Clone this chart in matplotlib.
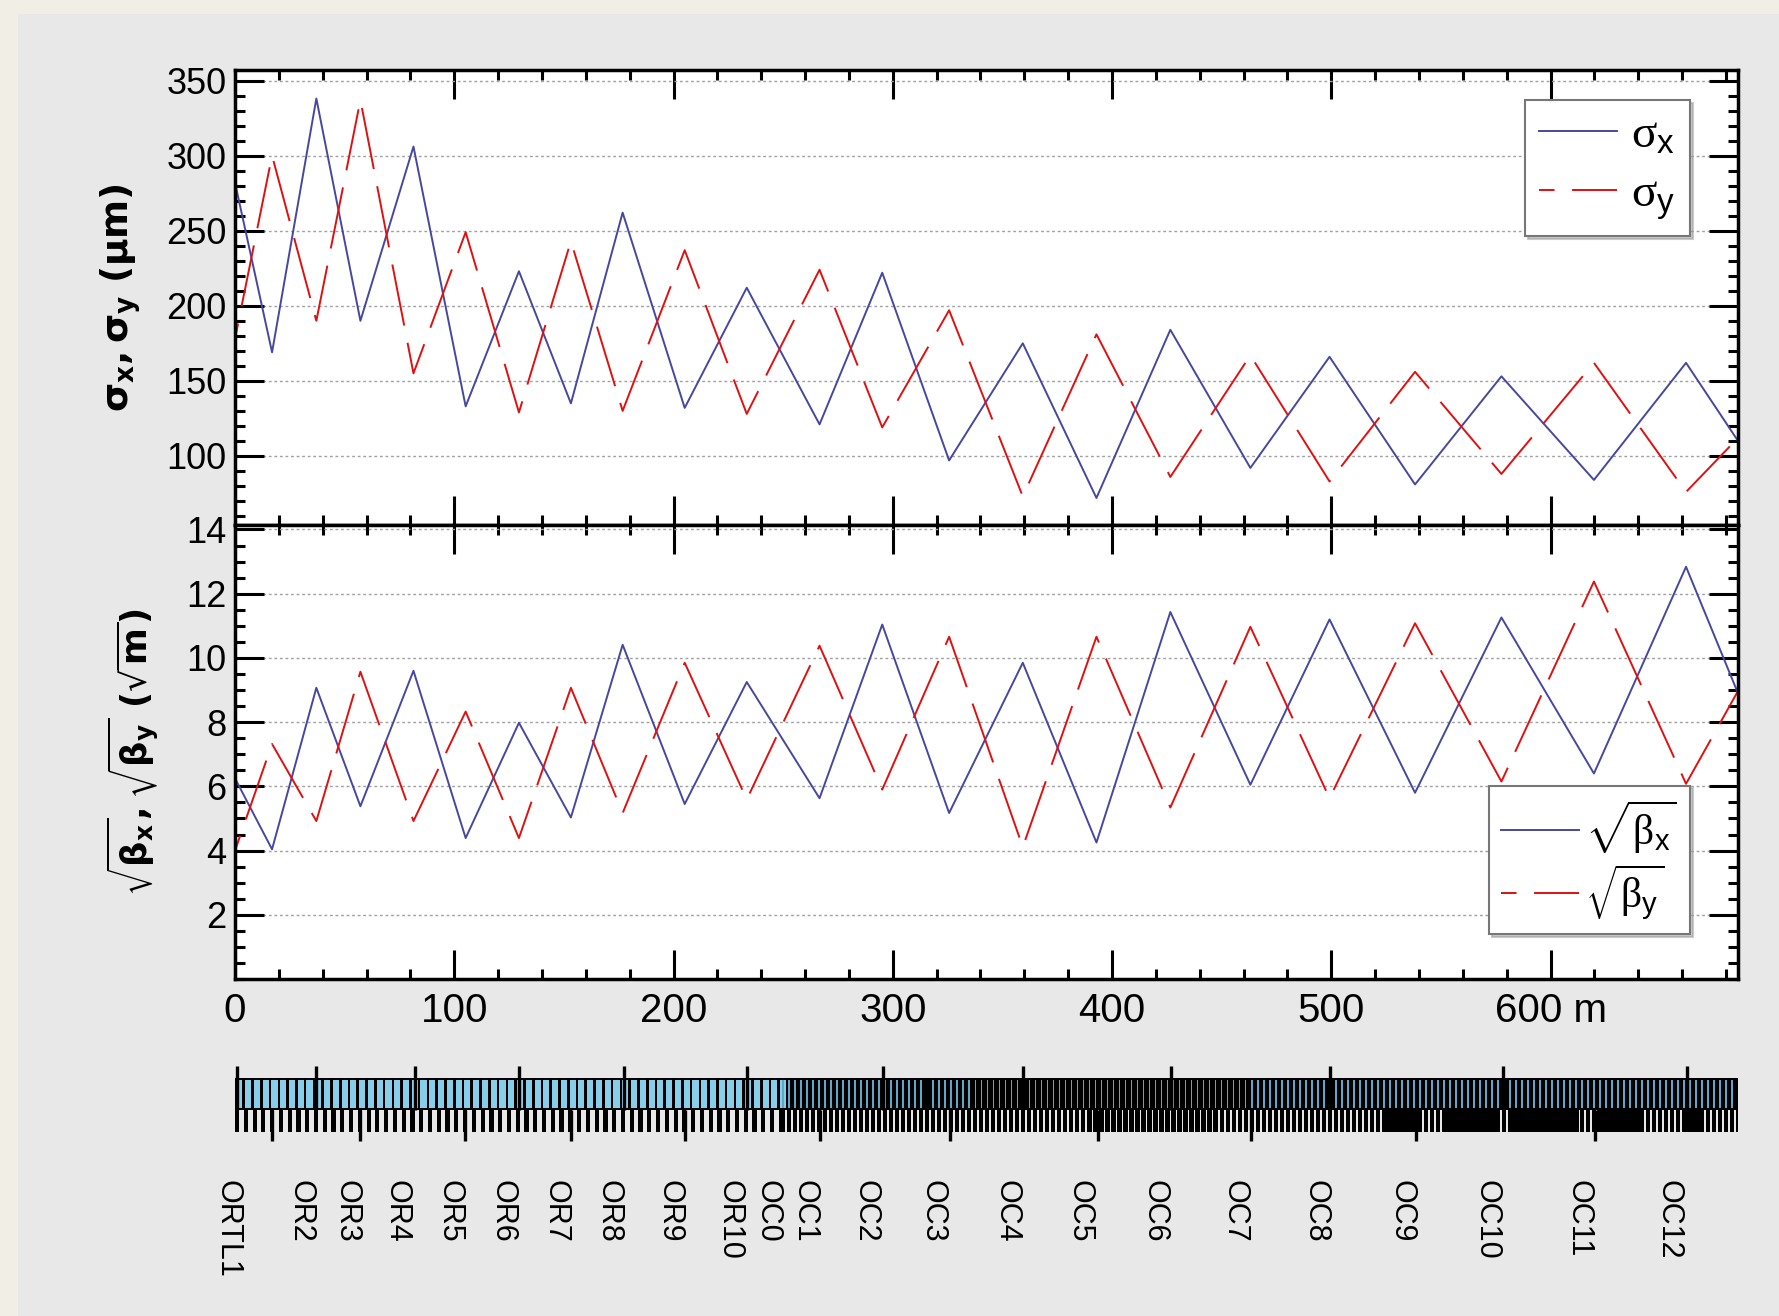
import numpy as np
import matplotlib.pyplot as plt
from matplotlib.ticker import MultipleLocator
from matplotlib.patches import Rectangle

plt.rcParams['font.family'] = ['Liberation Sans', 'DejaVu Sans']
plt.rcParams['mathtext.rm'] = 'Liberation Serif'
plt.rcParams['mathtext.sf'] = 'Liberation Sans'
plt.rcParams['mathtext.it'] = 'Liberation Serif:italic'
plt.rcParams['mathtext.bf'] = 'Liberation Serif:bold'

# beam size and beta function at the quadrupoles (m), last point = end of line
s_quad = [0, 16.9, 37.1, 57.2, 81.4, 105.2, 129.5, 153.2, 176.8, 205.1, 233.4, 266.6,
          295.2, 325.7, 359.3, 392.9, 426.6, 463.1, 499.2, 538.2, 577.6, 619.8, 661.8, 685.5]
sigma_x = [282, 169, 338, 190, 306, 133, 223, 135, 262, 132, 212, 121,
           222, 97, 175, 72, 184, 92, 166, 81, 153, 84, 162, 110]
sigma_y = [178, 300, 190, 337, 155, 249, 129, 243, 130, 237, 128, 224,
           119, 197, 73, 181, 86, 167, 83, 156, 88, 162, 76, 112]
sqrt_beta_x = [6.25, 4.04, 9.07, 5.38, 9.6, 4.39, 7.98, 5.03, 10.41, 5.45, 9.25, 5.63,
               11.04, 5.17, 9.85, 4.25, 11.43, 6.05, 11.2, 5.8, 11.26, 6.4, 12.84, 8.9]
sqrt_beta_y = [4.0, 7.32, 4.92, 9.57, 4.92, 8.33, 4.39, 9.07, 5.17, 9.85, 5.59, 10.38,
               5.9, 10.66, 4.11, 10.66, 5.34, 10.97, 5.63, 11.08, 6.15, 12.38, 6.08, 8.97]

# synoptic: quadrupole markers
quad_f = [0.7, 37.0, 81.9, 129.6, 177.3, 233.6, 295.4, 359.6, 427.0, 499.6, 578.2, 662.2]
quad_d = [16.8, 57.0, 105.1, 153.1, 205.2, 266.9, 325.9, 393.4, 463.2, 538.6, 620.3]

# synoptic: two lattice sections (start, end, pitch, magnet width, bar width, colour)
sec_start = [0.0, 249.0]
sec_end = [249.0, 685.5]
sec_pitch = [4.0, 2.74]
sec_magnet_w = [2.8, 0.75]
sec_bar_w = [1.9, 1.9]
sec_color = ['#87ceeb', '#5ea6ca']
solid_blocks = [(524, 540), (552, 577), (581, 613), (621, 641), (661, 669)]
magnet_gaps = [(313, 318)]

label_names = ['ORTL1', 'OR2', 'OR3', 'OR4', 'OR5', 'OR6', 'OR7', 'OR8', 'OR9', 'OR10',
               'OC0', 'OC1', 'OC2', 'OC3', 'OC4', 'OC5', 'OC6', 'OC7', 'OC8', 'OC9',
               'OC10', 'OC11', 'OC12']
label_s = [-3.5, 30.0, 50.8, 73.8, 97.8, 122.2, 146.1, 170.5, 198.0, 225.4,
           242.8, 259.8, 287.5, 318.2, 352.0, 385.3, 419.2, 455.7, 492.7, 532.2,
           570.9, 612.6, 653.9]

W, H = 1779, 1316
fig = plt.figure(figsize=(W / 100, H / 100), dpi=100, facecolor='#f1eee6')
fig.patches.append(Rectangle((18 / W, 0), 1, 1 - 14 / H, transform=fig.transFigure,
                             facecolor='#e8e8e8', edgecolor='none', zorder=-10))

ax1 = fig.add_axes([235 / W, 1 - 525 / H, 1503 / W, 455 / H])
ax2 = fig.add_axes([235 / W, 1 - 979 / H, 1503 / W, 454 / H])
ax3 = fig.add_axes([235 / W, 1 - 1150 / H, 1503 / W, 100 / H])

blue = '#4747a0'
red = '#e01010'
dash = (24, (32, 9))

ax1.plot(s_quad, sigma_x, color=blue, lw=1.4, label=r'$\mathrm{\sigma}_{\mathsf{x}}$')
ax1.plot(s_quad, sigma_y, color=red, lw=1.4, ls=dash, label=r'$\mathrm{\sigma}_{\mathsf{y}}$')
ax2.plot(s_quad, sqrt_beta_x, color=blue, lw=1.4,
         label=r'$\sqrt{\mathrm{\beta}_{\mathsf{x}}}$')
ax2.plot(s_quad, sqrt_beta_y, color=red, lw=1.4, ls=dash,
         label=r'$\sqrt{\mathrm{\beta}_{\mathsf{y}}}$')

ax1.set_ylim(54, 357)
ax2.set_ylim(0, 14.14)
ax1.yaxis.set_major_locator(MultipleLocator(50))
ax1.yaxis.set_minor_locator(MultipleLocator(10))
ax2.set_yticks([2, 4, 6, 8, 10, 12, 14])
ax2.yaxis.set_minor_locator(MultipleLocator(0.5))

for ax in (ax1, ax2):
    ax.set_xlim(0, 685.5)
    ax.set_facecolor('white')
    ax.xaxis.set_major_locator(MultipleLocator(100))
    ax.xaxis.set_minor_locator(MultipleLocator(20))
    ax.tick_params(which='both', direction='in', top=True, right=True, width=2.2)
    ax.tick_params(which='major', length=21)
    ax.tick_params(which='minor', length=7)
    ax.tick_params(axis='y', labelsize=26, pad=6)
    ax.yaxis.grid(True, which='major', ls=(0, (2, 2)), color='#a0a0a0', lw=1)
    ax.set_axisbelow(True)
    for sp in ax.spines.values():
        sp.set_linewidth(2.5)

ax1.tick_params(axis='x', labelbottom=False)
ax2.tick_params(axis='x', labelsize=29, pad=9)
ax2.set_xticks([0, 100, 200, 300, 400, 500, 600],
               ['0', '100', '200', '300', '400', '500', '600 m'])

ax1.set_ylabel(r'$\mathbf{\sigma_x, \sigma_y\ (\mu m)}$', fontsize=27, va='center',
               math_fontfamily='dejavusans')
ax1.yaxis.set_label_coords(-0.0758, 0.5)
ax2.set_ylabel(r'$\mathbf{\sqrt{\beta_x}, \sqrt{\beta_y}\ (\sqrt{m})}$', fontsize=25.5,
               va='center', math_fontfamily='dejavusans')
ax2.yaxis.set_label_coords(-0.068, 0.5)

legend_opts = [(ax1, 'upper right', (0.968, 0.934), 34, 1.65, 0.3, 0.35),
               (ax2, 'lower right', (0.968, 0.099), 30, 1.87, 0.15, 0.15)]
for ax, loc, anchor, size, hlen, tpad, spacing in legend_opts:
    prop = {'family': 'Liberation Serif', 'size': size, 'math_fontfamily': 'custom'}
    leg = ax.legend(loc=loc, bbox_to_anchor=anchor, borderaxespad=0, prop=prop,
                    fancybox=False, shadow={'color': '0.6'}, framealpha=1,
                    edgecolor='#777777', handlelength=hlen, handletextpad=tpad,
                    borderpad=0.3, labelspacing=spacing)
    leg.get_frame().set_linewidth(1.5)

# synoptic strip
ax3.set_xlim(0, 685.5)
ax3.set_ylim(0, 10)
ax3.axis('off')
ax3.bar(sec_start[0], bottom=4.0, height=3.2, width=sec_end[1] - sec_start[0],
        align='edge', color='black', lw=0)
for i in range(len(sec_start)):
    cells = np.arange(sec_start[i] + 0.6, sec_end[i] - 0.3, sec_pitch[i])
    keep = [c for c in cells if not any(a <= c <= b for a, b in magnet_gaps)]
    ax3.bar(keep, bottom=4.2, height=2.8, width=sec_magnet_w[i], align='edge',
            color=sec_color[i], lw=0)
    bars = np.arange(sec_start[i], sec_end[i] - 0.5, sec_pitch[i])
    ax3.bar(bars, bottom=1.8, height=2.2, width=sec_bar_w[i], align='edge',
            color='black', lw=0)
for a, b in solid_blocks:
    ax3.bar(a, bottom=1.8, height=2.2, width=b - a, align='edge', color='black', lw=0)
ax3.vlines(quad_f, 4.0, 8.4, color='black', lw=2.4)
ax3.vlines(quad_d, 0.9, 4.0, color='black', lw=2.4)

for name, s in zip(label_names, label_s):
    ax3.text(s, -3.0, name, rotation=-90, ha='center', va='top', fontsize=22,
             clip_on=False)

fig.savefig('out.png', dpi=100, facecolor=fig.get_facecolor())
